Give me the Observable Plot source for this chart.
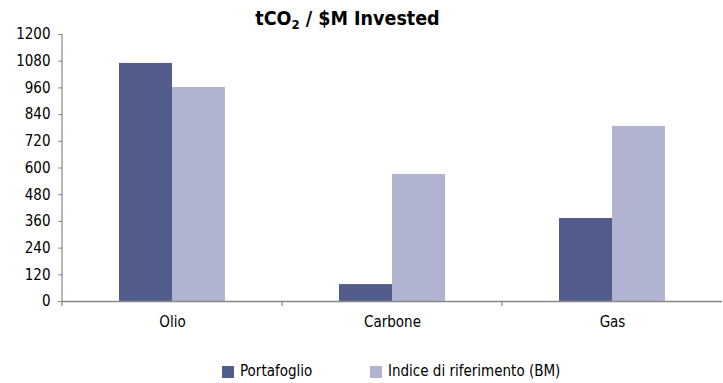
<!DOCTYPE html>
<html><head><meta charset="utf-8">
<script src="https://cdn.jsdelivr.net/npm/d3@7"></script>
<script src="https://cdn.jsdelivr.net/npm/@observablehq/plot@0.6"></script>
<style>
body{margin:0;background:#fff;font-family:"DejaVu Sans Condensed",sans-serif;}
#wrap{position:relative;width:723px;height:383px;overflow:hidden;}
#title{position:absolute;top:8px;left:0;width:695px;text-align:center;font-weight:bold;font-size:19.5px;line-height:22px;color:#000;}
#title sub{font-size:13px;vertical-align:-4px;line-height:0;}
#chart{position:absolute;top:0;left:0;}
#legend{position:absolute;top:363px;left:0;width:723px;font-size:15px;line-height:17px;color:#000;}
.li{position:absolute;top:0;display:flex;align-items:center;}
.sw{width:12px;height:12px;margin-right:6px;}
</style></head>
<body><div id="wrap">
<div id="title">tCO<sub>2</sub> / $M Invested</div>
<div id="chart"></div>
<div id="legend"></div>
</div>
<script>
const categories = ["Olio", "Carbone", "Gas"];
const series = ["Portafoglio", "Indice di riferimento (BM)"];
const portafoglio = [1070, 76, 373];
const benchmark = [962, 571, 787];
const yTicks = [0, 120, 240, 360, 480, 600, 720, 840, 960, 1080, 1200];
const colors = ["#535d8c", "#b0b4d0"];

const data = [];
categories.forEach((c, i) => {
  data.push({cat: c, s: series[0], v: portafoglio[i]});
  data.push({cat: c, s: series[1], v: benchmark[i]});
});

const font = '"DejaVu Sans Condensed",sans-serif';
const plot = Plot.plot({
  width: 723, height: 340,
  marginTop: 34, marginBottom: 39, marginLeft: 61, marginRight: 0,
  style: {fontFamily: font, fontSize: "15px", color: "#000", background: "transparent"},
  fx: {domain: categories, paddingInner: 0, paddingOuter: 0, label: null},
  x: {domain: series, paddingInner: 0, paddingOuter: 1.04, axis: null},
  y: {domain: [0, 1200], label: null},
  color: {domain: series, range: colors},
  marks: [
    Plot.barY(data, {fx: "cat", x: "s", y: "v", fill: "s"}),
    Plot.axisY({ticks: yTicks, tickFormat: d => String(d), tickSize: 4, tickPadding: 8, stroke: "#888", fill: "#000", label: null, fontSize: 15}),
    Plot.axisFx({anchor: "bottom", tickSize: 0, tickPadding: 15, label: null, fontSize: 15, fill: "#000"}),
    Plot.ruleY([0], {stroke: "#888", strokeWidth: 1.5})
  ]
});
document.getElementById("chart").appendChild(plot);

// y-axis line and category separator ticks via the plot's scales
const ys = plot.scale("y"), fxs = plot.scale("fx");
const svg = d3.select(plot);
const g = svg.append("g").attr("stroke", "#888").attr("stroke-width", 1.2);
const x0 = fxs.apply(categories[0]);
g.append("line").attr("x1", x0).attr("x2", x0).attr("y1", ys.apply(1200)).attr("y2", ys.apply(0) + 5);
categories.slice(1).forEach(c => {
  const xx = fxs.apply(c);
  g.append("line").attr("x1", xx).attr("x2", xx).attr("y1", ys.apply(0)).attr("y2", ys.apply(0) + 5);
});

const leg = document.getElementById("legend");
const lefts = [222, 370];
series.forEach((s, i) => {
  const d = document.createElement("div");
  d.className = "li"; d.style.left = lefts[i] + "px";
  d.innerHTML = `<span class="sw" style="background:${colors[i]}"></span><span>${s}</span>`;
  leg.appendChild(d);
});
</script>
</body></html>
